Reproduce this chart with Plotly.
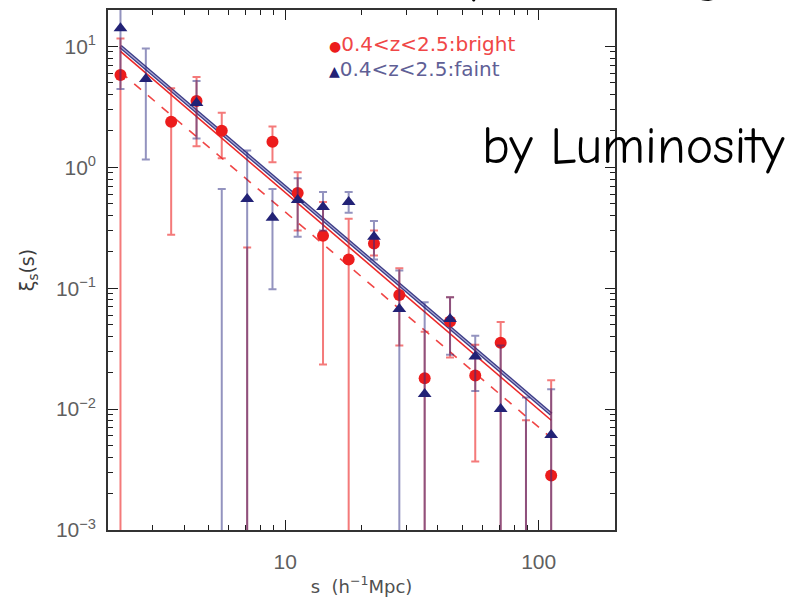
import numpy as np
import plotly.graph_objects as go

# ---------------- data ----------------
s_bins = [2.24, 2.82, 3.55, 4.47, 5.62, 7.08, 8.91, 11.2, 14.1, 17.8,
          22.4, 28.2, 35.5, 44.7, 56.2, 70.8, 89.1, 112.0]

# bright sample (None = value off scale / not plotted)
bright_xi = [5.8, None, 2.38, 3.54, 2.01, None, 1.63, 0.612, 0.272, 0.173,
             0.234, 0.0877, 0.018, 0.053, 0.019, 0.0354, None, 0.00282]
bright_hi = [11.6, None, 4.5, 5.57, 2.83, 0.217, 2.17, 0.91, 0.516, 0.375,
             0.30, 0.146, 0.0437, 0.0843, 0.034, 0.0526, 0.0081, 0.0173]
bright_lo = [None, None, 0.277, 1.49, 1.19, None, 1.10, 0.30, 0.0234, None,
             0.186, 0.0335, None, 0.0267, 0.00368, None, None, None]

# faint sample
faint_xi = [14.1, 5.37, None, 3.41, None, 0.547, 0.382, 0.537, 0.47, 0.516,
            0.267, 0.0673, 0.0133, 0.0557, 0.0272, 0.0100, None, 0.00612]
faint_hi = [25.0, 9.6, None, 5.17, 0.66, 1.38, 0.66, 0.81, 0.624, 0.624,
            0.36, 0.14, 0.0767, 0.0843, 0.0405, 0.0335, 0.0125, 0.0146]
faint_lo = [4.45, 1.16, None, 1.73, None, None, 0.098, 0.267, 0.30, 0.42,
            0.173, None, None, 0.0282, 0.0141, None, None, None]

# power-law fits xi = (s/s0)^-gamma
fit_faint = dict(s0=8.1, gamma=1.79)
fit_bright = dict(s0=7.66, gamma=1.796)
fit_bright_dash = dict(s0=6.2, gamma=1.78)
fit_range = [2.24, 112.0]

x_ticks = [10, 100]
x_ticktext = ["10", "100"]
y_ticks = [1e-3, 1e-2, 1e-1, 1e0, 1e1]
y_ticktext = ["10<sup>\u22123</sup>", "10<sup>\u22122</sup>", "10<sup>\u22121</sup>",
              "10<sup>0</sup>", "10<sup>1</sup>"]

# ---------------- helpers ----------------
OFF = 1e-6  # off-scale floor


def build(xi, hi, lo):
    xs, ys, up, dn = [], [], [], []
    for s, v, h, l in zip(s_bins, xi, hi, lo):
        if v is None and h is None:
            continue
        y = v if v is not None else OFF
        top = h if h is not None else y
        bot = l if l is not None else OFF
        xs.append(s)
        ys.append(y)
        up.append(top - y)
        dn.append(y - bot)
    return xs, ys, up, dn


RED = "rgb(236,28,28)"
RED_BAR = "rgba(238,40,40,0.62)"
BLUE = "rgb(34,34,118)"
BLUE_BAR = "rgba(40,40,128,0.5)"

fig = go.Figure()

fs = np.logspace(np.log10(fit_range[0]), np.log10(fit_range[1]), 50)

def fit(p):
    return (fs / p["s0"]) ** (-p["gamma"])

# fit lines
fig.add_trace(go.Scatter(x=fs, y=fit(fit_bright_dash), mode="lines",
                         line=dict(color="rgb(240,70,70)", width=1.6, dash="dash"),
                         showlegend=False, hoverinfo="skip"))
fig.add_trace(go.Scatter(x=fs, y=fit(fit_bright), mode="lines",
                         line=dict(color="rgb(236,40,40)", width=1.6),
                         showlegend=False, hoverinfo="skip"))
fig.add_trace(go.Scatter(x=fs, y=fit(fit_faint), mode="lines",
                         line=dict(color="rgb(60,60,135)", width=3.8),
                         showlegend=False, hoverinfo="skip"))
fig.add_trace(go.Scatter(x=fs, y=fit(fit_faint), mode="lines",
                         line=dict(color="rgb(175,175,215)", width=1.1),
                         showlegend=False, hoverinfo="skip"))

bx, by, bu, bd = build(bright_xi, bright_hi, bright_lo)
fx, fy, fu, fd = build(faint_xi, faint_hi, faint_lo)

fig.add_trace(go.Scatter(
    x=bx, y=by, mode="markers",
    marker=dict(symbol="circle", size=12, color=RED, line=dict(width=0)),
    error_y=dict(type="data", symmetric=False, array=bu, arrayminus=bd,
                 color=RED_BAR, thickness=2, width=4),
    showlegend=False, cliponaxis=True))
fig.add_trace(go.Scatter(
    x=fx, y=fy, mode="markers",
    marker=dict(symbol="triangle-up", size=12, color=BLUE, line=dict(width=0)),
    error_y=dict(type="data", symmetric=False, array=fu, arrayminus=fd,
                 color=BLUE_BAR, thickness=2, width=4),
    showlegend=False, cliponaxis=True))

# minor tick positions
x_minor = [m * 10 ** e for e in range(0, 3) for m in range(2, 10)]
y_minor = [m * 10 ** e for e in range(-3, 2) for m in range(2, 10)]

axis_common = dict(
    type="log", showgrid=False, zeroline=False,
    showline=True, linecolor="rgb(50,50,50)", linewidth=1.6, mirror="ticks",
    ticks="inside", ticklen=10, tickwidth=1.3, tickcolor="rgb(30,30,30)",
    tickfont=dict(family="Liberation Sans, Arial, sans-serif", size=21,
                  color="rgb(95,95,95)"),
)

fig.update_layout(
    width=798, height=602,
    margin=dict(l=108, r=183, t=8, b=69),
    paper_bgcolor="white", plot_bgcolor="white",
    xaxis=dict(**axis_common, range=[np.log10(2), np.log10(200)],
               tickvals=x_ticks, ticktext=x_ticktext, ticklabelstandoff=12,
               minor=dict(tickvals=x_minor, ticks="inside", ticklen=5,
                          tickwidth=1.2, tickcolor="rgb(30,30,30)", showgrid=False),
               title=dict(text="s  (h<sup>\u22121</sup>Mpc)", standoff=8,
                          font=dict(family="DejaVu Sans, sans-serif",
                                    size=18, color="rgb(80,80,80)"))),
    yaxis=dict(**axis_common, range=[-3, np.log10(20)],
               tickvals=y_ticks, ticktext=y_ticktext, ticklabelstandoff=6,
               minor=dict(tickvals=y_minor, ticks="inside", ticklen=5,
                          tickwidth=1.2, tickcolor="rgb(30,30,30)", showgrid=False),
               title=dict(text="\u03be<sub>s</sub>(s)", standoff=16,
                          font=dict(family="DejaVu Sans, sans-serif",
                                    size=19, color="rgb(60,60,60)"))),
)

# legend as annotations
leg_font = dict(family="DejaVu Sans, sans-serif", size=20)
fig.add_annotation(xref="paper", yref="paper", x=0.432, y=0.935,
                   xanchor="left", yanchor="middle", showarrow=False,
                   text="<span style='color:rgb(236,28,28);font-size:14px'>\u25cf</span>"
                        "<span style='color:rgb(240,70,70)'>0.4&lt;z&lt;2.5:bright</span>",
                   font=leg_font)
fig.add_annotation(xref="paper", yref="paper", x=0.432, y=0.886,
                   xanchor="left", yanchor="middle", showarrow=False,
                   text="<span style='color:rgb(34,34,118);font-size:14px'>\u25b2</span>"
                        "<span style='color:rgb(95,95,150)'>0.4&lt;z&lt;2.5:faint</span>",
                   font=leg_font)

# slide overlay text
big_font = dict(family="Comic Sans MS, Comic Neue, Lato, sans-serif", size=52,
                color="black")
fig.add_annotation(xref="paper", yref="paper", x=(480 - 108) / 507,
                   y=(533 - 145) / 525, xanchor="left", yanchor="middle",
                   showarrow=False, text="by Luminosity", font=big_font)
# cut-off title letters at the very top of the slide (only descenders show)
fig.add_annotation(xref="paper", yref="paper", x=(466 - 108) / 507,
                   y=(533 - 10) / 525, xanchor="left", yanchor="bottom",
                   yshift=6, showarrow=False, text="p", font=big_font)
fig.add_annotation(xref="paper", yref="paper", x=(694 - 108) / 507,
                   y=(533 - 10) / 525, xanchor="left", yanchor="bottom",
                   yshift=6, showarrow=False, text="g", font=big_font)

fig.write_html("out.html")
